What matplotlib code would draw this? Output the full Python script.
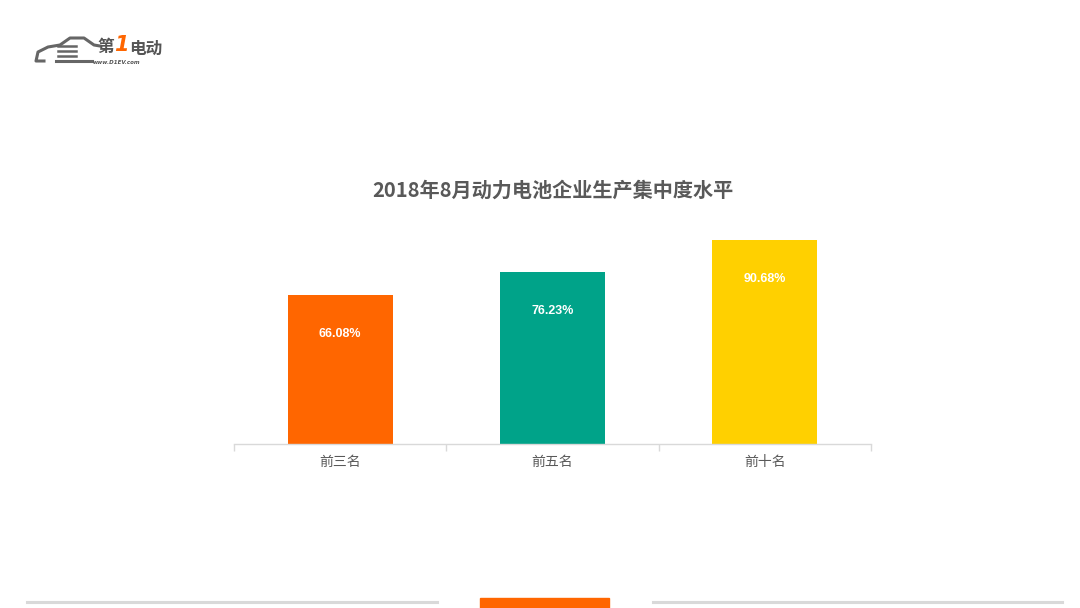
import matplotlib
matplotlib.use("Agg")
import matplotlib.pyplot as plt
from matplotlib.patches import Rectangle
from matplotlib.lines import Line2D

plt.rcParams['font.family'] = ['Noto Sans CJK SC', 'DejaVu Sans']

categories = ['前三名', '前五名', '前十名']
values = [66.08, 76.23, 90.68]
colors = ['#FF6600', '#00A389', '#FFD000']
title = '2018年8月动力电池企业生产集中度水平'

W, H = 1080, 608
fig = plt.figure(figsize=(W / 100, H / 100), dpi=100)
fig.patch.set_facecolor('white')

def fx(x):
    return x / W

def fy(y):
    return 1 - y / H

# axes: x 234..871, baseline y=444, 0..100 maps to 225px
ax = fig.add_axes([fx(234), fy(444), (871 - 234) / W, 225 / H])
x = range(len(categories))
bars = ax.bar(x, values, width=0.495, color=colors, zorder=2)
ax.set_xlim(-0.5, len(categories) - 0.5)
ax.set_ylim(0, 100)
for s in ['top', 'right', 'left']:
    ax.spines[s].set_visible(False)
ax.spines['bottom'].set_color('#d9d9d9')
ax.spines['bottom'].set_linewidth(1.0)
ax.set_yticks([])
ax.set_xticks([-0.5, 0.5, 1.5, 2.5], minor=False)
ax.set_xticklabels([])
ax.tick_params(axis='x', which='major', length=5, color='#d9d9d9', width=1.0)
ax.set_xticks(list(x), minor=True)
ax.set_xticklabels(categories, minor=True)
ax.tick_params(axis='x', which='minor', length=0, pad=8, labelsize=10, labelcolor='#595959')

for xi, v in zip(x, values):
    ax.annotate(f'{v:.2f}%', (xi, v), xytext=(0, -28), textcoords='offset points',
                ha='center', va='center', color='white', fontsize=9,
                fontweight='bold', family=['Liberation Sans', 'DejaVu Sans'])

fig.text(fx(553), fy(190), title, ha='center', va='center', fontsize=14.5,
         color='#595959', fontweight='bold')

# bottom decoration
fig.add_artist(Line2D([fx(27), fx(437)], [fy(602), fy(602)], color='#d9d9d9', lw=2.2))
fig.add_artist(Line2D([fx(653), fx(1062)], [fy(602), fy(602)], color='#d9d9d9', lw=2.2))
fig.add_artist(Rectangle((fx(480), 0), (609 - 480) / W, 10 / H, color='#FF6600',
                         transform=fig.transFigure))

# logo
car_x = [44, 36, 38, 48, 60, 70, 84, 94, 100]
car_y = [61, 61, 52, 47, 45, 38, 38, 45, 46]
fig.add_artist(Line2D([fx(v) for v in car_x], [fy(v) for v in car_y], color='#666666', lw=2.2))
fig.add_artist(Line2D([fx(56), fx(92)], [fy(61), fy(61)], color='#666666', lw=2.2))
for yy in (46, 51, 56):
    fig.add_artist(Line2D([fx(58), fx(76)], [fy(yy), fy(yy)], color='#666666', lw=1.8))
fig.text(fx(97), fy(47), '第', ha='left', va='center', fontsize=12, color='#555555',
         fontweight='bold', style='italic')
fig.text(fx(114), fy(45), '1', ha='left', va='center', fontsize=15, color='#FF6600',
         fontweight='bold', style='italic', family=['DejaVu Sans'])
fig.text(fx(129), fy(49), '电动', ha='left', va='center', fontsize=12, color='#555555',
         fontweight='bold', style='italic')
fig.text(fx(93), fy(63), 'www.D1EV.com', ha='left', va='center', fontsize=4,
         color='#555555', fontweight='bold', style='italic', family=['DejaVu Sans'])

fig.savefig('out.png', dpi=100, facecolor='white')
